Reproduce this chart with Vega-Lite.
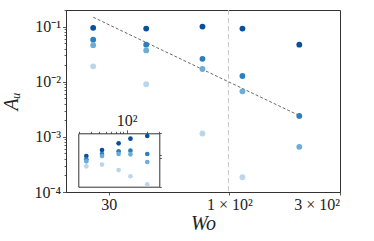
{
  "$schema": "https://vega.github.io/schema/vega-lite/v6.json",
  "width": 274,
  "height": 182,
  "autosize": "none",
  "padding": {"left": 66, "top": 10, "right": 34, "bottom": 49},
  "config": {
    "view": {"stroke": "#333333", "strokeWidth": 1},
    "axis": {
      "grid": false,
      "domainColor": "#333333",
      "tickColor": "#333333",
      "labelFont": "Liberation Serif",
      "titleFont": "Liberation Serif",
      "labelColor": "#222222",
      "titleColor": "#222222",
      "labelFontSize": 16,
      "tickWidth": 0.8
    }
  },
  "datasets": {
    "main": [
      {"Wo": 25.7, "Au": 0.095, "s": "A"},
      {"Wo": 43.6, "Au": 0.092, "s": "A"},
      {"Wo": 76.4, "Au": 0.100, "s": "A"},
      {"Wo": 113.8, "Au": 0.092, "s": "A"},
      {"Wo": 200.6, "Au": 0.047, "s": "A"},
      {"Wo": 25.7, "Au": 0.058, "s": "B"},
      {"Wo": 43.6, "Au": 0.047, "s": "B"},
      {"Wo": 76.4, "Au": 0.026, "s": "B"},
      {"Wo": 113.8, "Au": 0.0127, "s": "B"},
      {"Wo": 200.6, "Au": 0.0024, "s": "B"},
      {"Wo": 25.7, "Au": 0.046, "s": "C"},
      {"Wo": 43.6, "Au": 0.037, "s": "C"},
      {"Wo": 76.4, "Au": 0.017, "s": "C"},
      {"Wo": 113.8, "Au": 0.0067, "s": "C"},
      {"Wo": 200.6, "Au": 0.00066, "s": "C"},
      {"Wo": 25.7, "Au": 0.019, "s": "D"},
      {"Wo": 43.6, "Au": 0.009, "s": "D"},
      {"Wo": 76.4, "Au": 0.00115, "s": "D"},
      {"Wo": 113.8, "Au": 0.000185, "s": "D"}
    ],
    "inset": [
      {"Wo": 25.7, "v": 0.376, "s": "A"},
      {"Wo": 43.6, "v": 0.487, "s": "A"},
      {"Wo": 76.4, "v": 0.650, "s": "A"},
      {"Wo": 113.8, "v": 0.792, "s": "A"},
      {"Wo": 200.6, "v": 0.889, "s": "A"},
      {"Wo": 25.7, "v": 0.326, "s": "B"},
      {"Wo": 43.6, "v": 0.410, "s": "B"},
      {"Wo": 76.4, "v": 0.460, "s": "B"},
      {"Wo": 113.8, "v": 0.472, "s": "B"},
      {"Wo": 200.6, "v": 0.410, "s": "B"},
      {"Wo": 25.7, "v": 0.299, "s": "C"},
      {"Wo": 43.6, "v": 0.376, "s": "C"},
      {"Wo": 76.4, "v": 0.410, "s": "C"},
      {"Wo": 113.8, "v": 0.404, "s": "C"},
      {"Wo": 200.6, "v": 0.290, "s": "C"},
      {"Wo": 25.7, "v": 0.241, "s": "D"},
      {"Wo": 43.6, "v": 0.260, "s": "D"},
      {"Wo": 76.4, "v": 0.205, "s": "D"},
      {"Wo": 113.8, "v": 0.157, "s": "D"},
      {"Wo": 200.6, "v": 0.111, "s": "D"}
    ],
    "fit": [
      {"Wo": 25.7, "Au": 0.148},
      {"Wo": 196, "Au": 0.00255}
    ],
    "vline": [{"Wo": 99}]
  },
  "layer": [
    {
      "layer": [
        {
          "data": {"name": "vline"},
          "mark": {"type": "rule", "color": "#c8c8c8", "strokeDash": [5, 3], "strokeWidth": 1},
          "encoding": {
            "x": {"field": "Wo", "type": "quantitative"}
          }
        },
        {
          "data": {"name": "fit"},
          "mark": {"type": "line", "color": "#444444", "strokeDash": [3, 2], "strokeWidth": 0.8},
          "encoding": {
            "x": {"field": "Wo", "type": "quantitative"},
            "y": {"field": "Au", "type": "quantitative"}
          }
        },
        {
          "data": {"name": "main"},
          "mark": {"type": "circle", "size": 34, "opacity": 1},
          "encoding": {
            "x": {
              "field": "Wo",
              "type": "quantitative",
              "scale": {"type": "log", "domain": [19.6, 301], "nice": false},
              "axis": {
                "orient": "bottom",
                "title": "Wo",
                "titleFontStyle": "italic",
                "titleFontWeight": "normal",
                "titleFontSize": 20,
                "titleY": 37,
                "titleBaseline": "alphabetic",
                "values": [30, 100, 300],
                "labelExpr": "datum.value == 30 ? '30' : datum.value == 100 ? '1 × 10²' : '3 × 10²'",
                "labelFontSize": 16,
                "tickSize": 3,
                "labelPadding": 1
              }
            },
            "y": {
              "field": "Au",
              "type": "quantitative",
              "scale": {"type": "log", "domain": [0.0001, 0.2], "nice": false},
              "axis": {
                "orient": "left",
                "title": "Aᵤ",
                "titleFontStyle": "italic",
                "titleFontWeight": "normal",
                "titleFontSize": 20,
                "titleX": -49,
                "titleBaseline": "alphabetic",
                "values": [0.0001, 0.0002, 0.0003, 0.0004, 0.0005, 0.0006, 0.0007, 0.0008, 0.0009, 0.001, 0.002, 0.003, 0.004, 0.005, 0.006, 0.007, 0.008, 0.009, 0.01, 0.02, 0.03, 0.04, 0.05, 0.06, 0.07, 0.08, 0.09, 0.1, 0.2],
                "labelExpr": "datum.value == 0.1 ? '10⁻¹' : datum.value == 0.01 ? '10⁻²' : datum.value == 0.001 ? '10⁻³' : datum.value == 0.0001 ? '10⁻⁴' : ''",
                "labelFontSize": 16,
                "tickSize": {"condition": {"test": "indexof([0.1, 0.01, 0.001, 0.0001], datum.value) >= 0", "value": 3.5}, "value": 2},
                "labelPadding": 2
              }
            },
            "color": {
              "field": "s",
              "type": "nominal",
              "scale": {"domain": ["A", "B", "C", "D"], "range": ["#08509b", "#2e7ebc", "#6aaed6", "#bad6eb"]},
              "legend": null
            }
          }
        }
      ]
    },
    {
      "layer": [
        {
          "data": {"name": "inset"},
          "mark": {"type": "circle", "size": 22, "opacity": 1},
          "encoding": {
            "x": {
              "field": "Wo",
              "type": "quantitative",
              "scale": {"type": "log", "domain": [19.6, 301], "nice": false, "range": [12.3, 93.3]},
              "axis": {
                "orient": "top",
                "offset": -123.3,
                "title": null,
                "values": [20, 30, 40, 50, 60, 70, 80, 90, 100, 200, 300],
                "labelExpr": "datum.value == 100 ? '10²' : ''",
                "labelFontSize": 16,
                "tickSize": {"condition": {"test": "datum.value == 100", "value": 3.5}, "value": 2},
                "labelPadding": 1
              }
            },
            "y": {
              "field": "v",
              "type": "quantitative",
              "scale": {"type": "log", "domain": [0.1, 1], "nice": false, "range": [176.7, 123.3]},
              "axis": {
                "orient": "right",
                "offset": -180.7,
                "title": null,
                "values": [0.1, 0.35, 0.4, 1],
                "labels": false,
                "tickSize": 2
              }
            },
            "color": {"field": "s", "type": "nominal", "legend": null}
          }
        },
        {
          "data": {"name": "inset"},
          "mark": {"type": "circle", "size": 22, "opacity": 0},
          "encoding": {
            "x": {
              "field": "Wo",
              "type": "quantitative",
              "axis": {"orient": "bottom", "offset": -5.3, "title": null, "ticks": false, "labels": false}
            },
            "y": {
              "field": "v",
              "type": "quantitative",
              "axis": {"orient": "left", "offset": -12.3, "title": null, "ticks": false, "labels": false}
            }
          }
        }
      ]
    }
  ],
  "resolve": {"scale": {"x": "independent", "y": "independent"}}
}
